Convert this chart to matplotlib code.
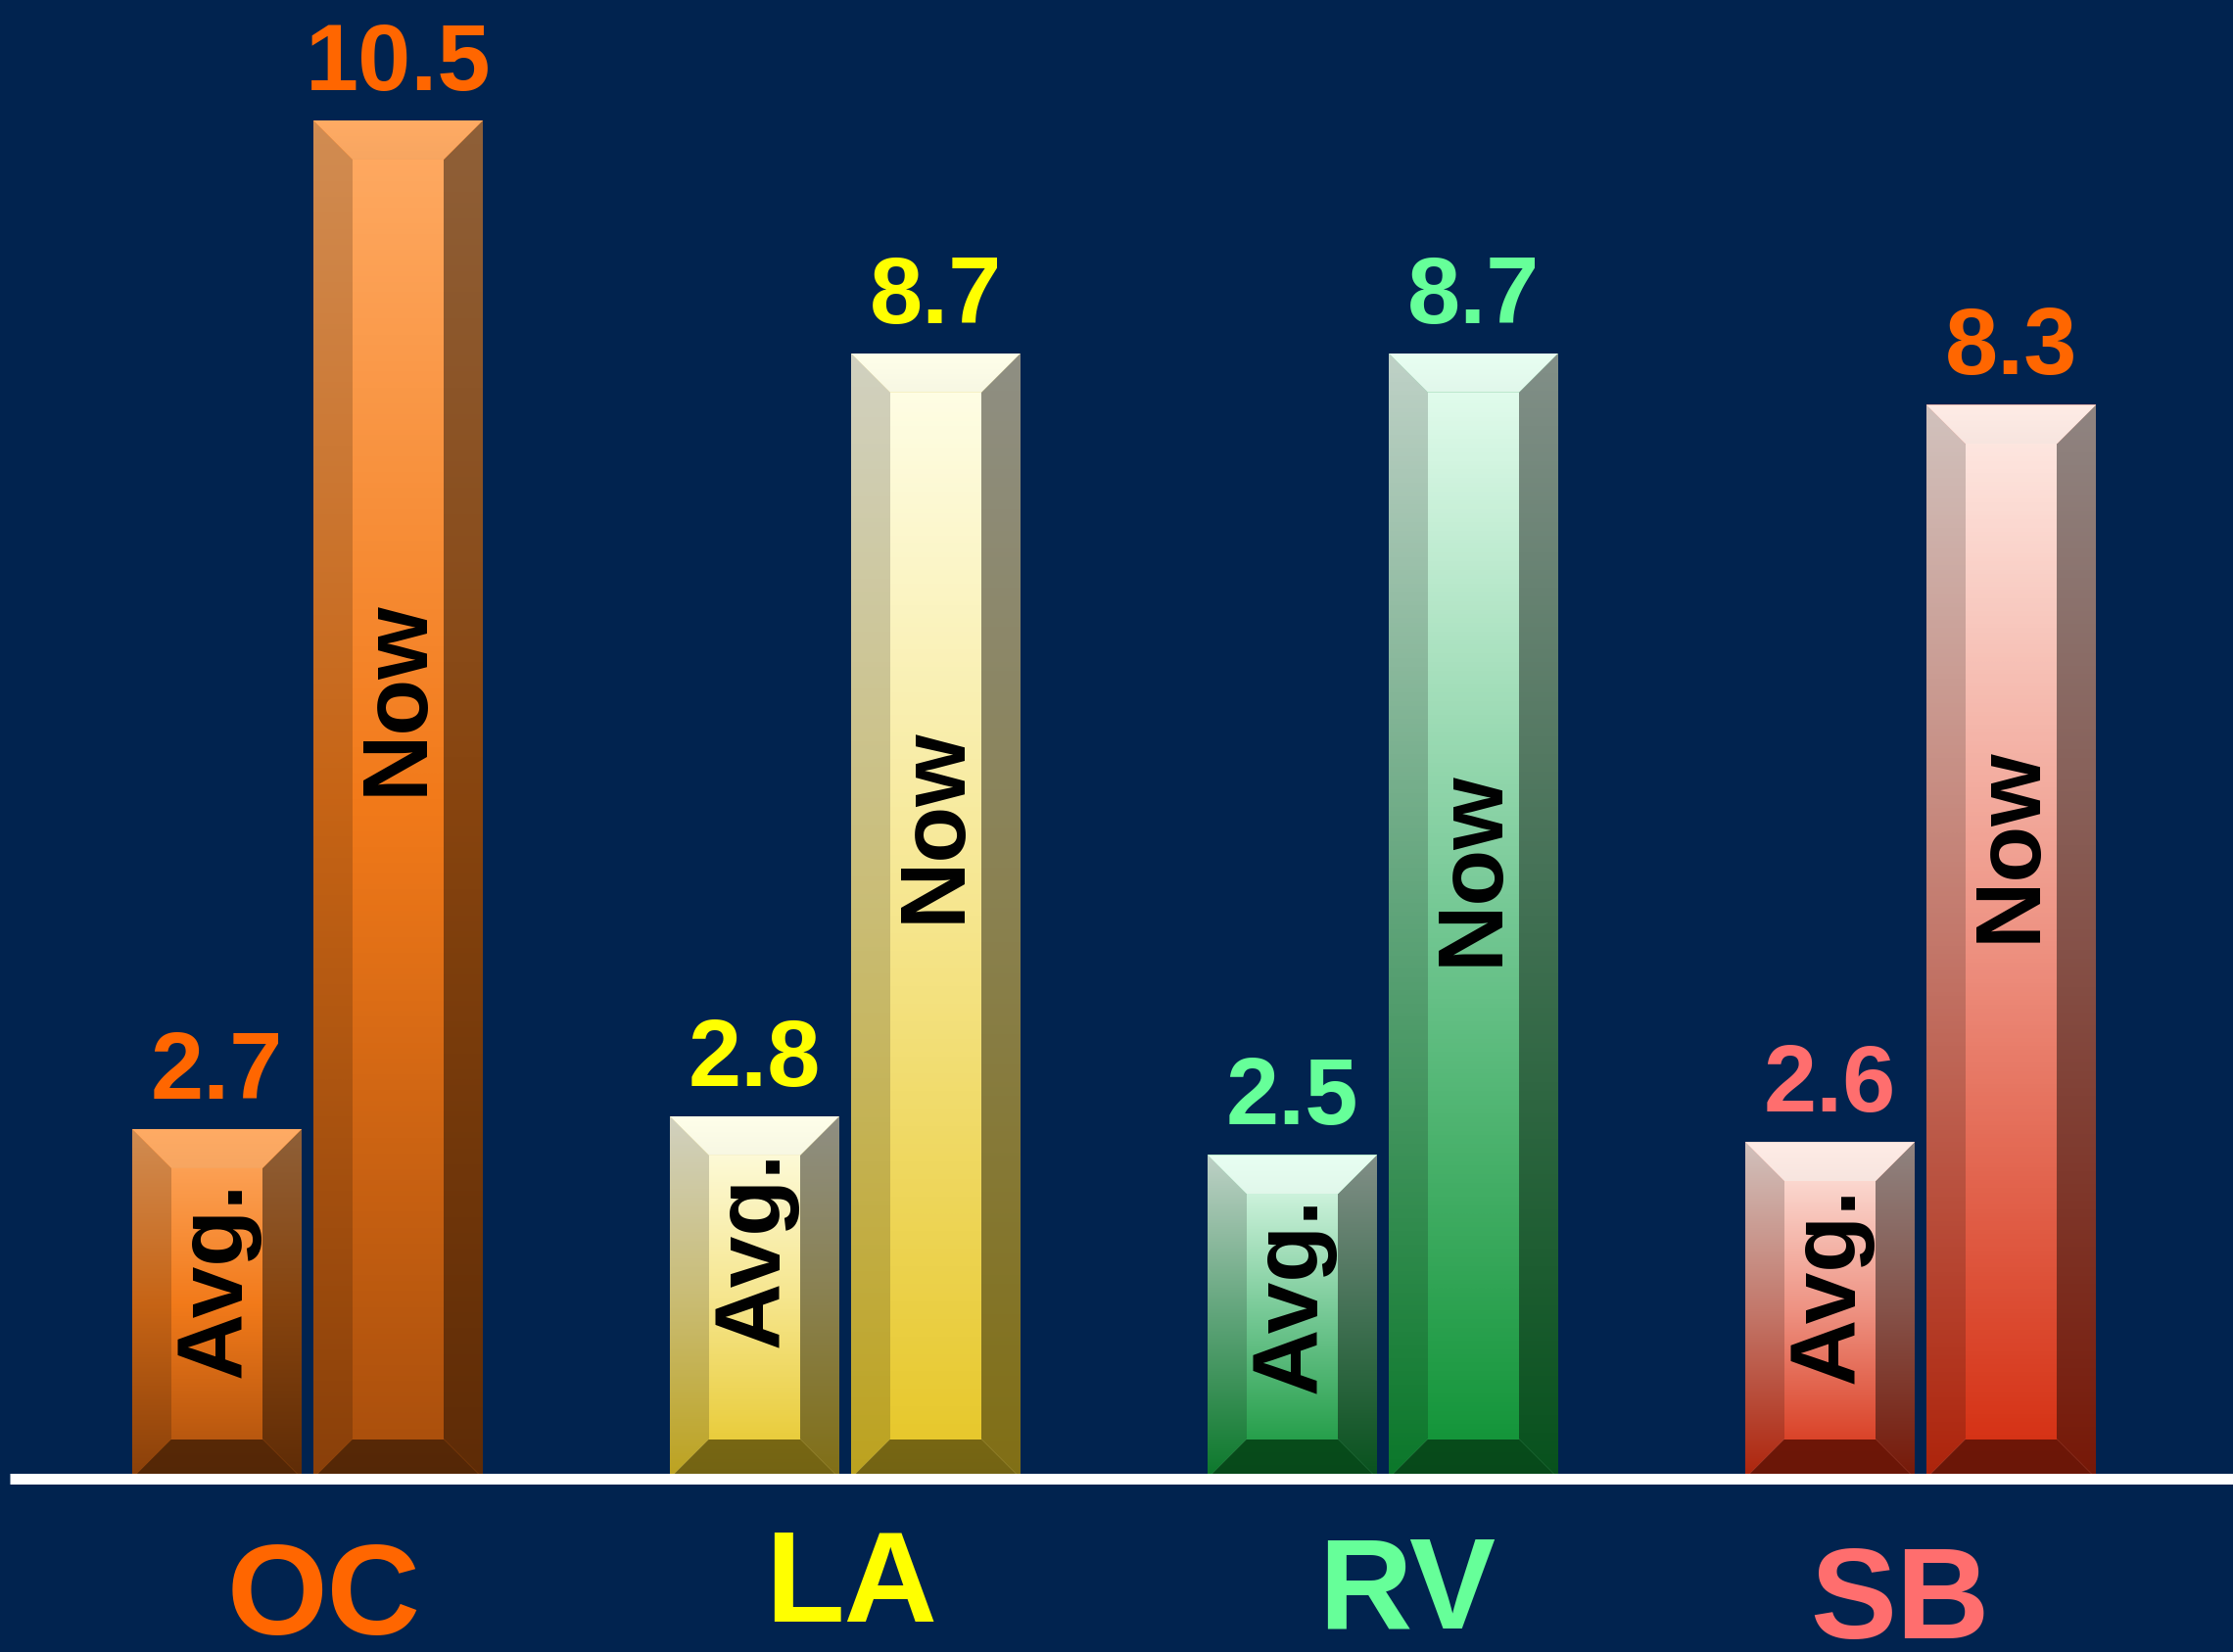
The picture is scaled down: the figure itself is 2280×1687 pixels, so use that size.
"""Avg. vs Now - bevelled bar chart (OC, LA, RV, SB)."""

from __future__ import annotations

import numpy as np
import matplotlib
matplotlib.use("Agg")
import matplotlib.pyplot as plt
from matplotlib.colors import LinearSegmentedColormap, to_rgb
from matplotlib.patches import Polygon

# data
categories = ["OC", "LA", "RV", "SB"]
avg_values = [2.7, 2.8, 2.5, 2.6]
now_values = [10.5, 8.7, 8.7, 8.3]

# colours
BG = "#01234F"
cat_colors = ["#FF6600", "#FFFF00", "#66FF99", "#FF6E6E"]
avg_label_colors = ["#FF6600", "#FFFF00", "#66FF99", "#FF6E6E"]
now_label_colors = ["#FF6600", "#FFFF00", "#66FF99", "#FF6600"]
# face gradient stops (top, middle, bottom)
face_top = ["#FFAB64", "#FFFFEA", "#E8FFF2", "#FFECE6"]
face_mid = ["#F27A1A", "#F6E68E", "#74C894", "#EE9282"]
face_bot = ["#A84E0C", "#E6C626", "#0E9234", "#D42C0E"]

# layout (pixels of a 2280x1687 canvas)
W, H = 2280, 1687
PX_X = 549.0            # pixels per category step
PX_Y = 132.05           # pixels per value unit
X0_PX, Y0_PX = 314.0, 1509.5
BAR_W = 173 / PX_X
BAR_OFF = 92.5 / PX_X
BEVEL = 40.0

avg_text_y = [1.54, 1.775, 1.42, 1.495]
now_text_y = [6.04, 5.05, 4.72, 4.90]
cat_dx = [17, 6, 25, -21]
cat_base = [-1.21, -1.109, -1.162, -1.235]


def scaled(c, k):
    r, g, b = to_rgb(c)
    return (r * k, g * k, b * k)


def make_cmap(i, k=1.0):
    return LinearSegmentedColormap.from_list(
        f"c{i}_{k}",
        [(0.0, scaled(face_top[i], k)), (0.5, scaled(face_mid[i], k)),
         (1.0, scaled(face_bot[i], k))])


def shade(ax, pts, cmap, extent, z):
    poly = Polygon(pts, closed=True, facecolor="none", edgecolor="none",
                   transform=ax.transData)
    ax.add_patch(poly)
    grad = np.linspace(0, 1, 256).reshape(-1, 1)
    im = ax.imshow(grad, cmap=cmap, extent=extent, aspect="auto",
                   origin="upper", interpolation="bilinear", zorder=z)
    im.set_clip_path(poly)


def bevel_bar(ax, rect, i):
    x0 = rect.get_x()
    x1 = x0 + rect.get_width()
    h = rect.get_height()
    dx = BEVEL / PX_X
    dy = BEVEL / PX_Y
    ext = (x0, x1, 0, h)
    face = [(x0 + dx, dy), (x1 - dx, dy), (x1 - dx, h - dy), (x0 + dx, h - dy)]
    top = [(x0, h), (x1, h), (x1 - dx, h - dy), (x0 + dx, h - dy)]
    left = [(x0, 0), (x0 + dx, dy), (x0 + dx, h - dy), (x0, h)]
    right = [(x1, 0), (x1, h), (x1 - dx, h - dy), (x1 - dx, dy)]
    bottom = [(x0, 0), (x1, 0), (x1 - dx, dy), (x0 + dx, dy)]
    shade(ax, face, make_cmap(i), ext, 3)
    shade(ax, left, make_cmap(i, 0.82), ext, 3)
    shade(ax, right, make_cmap(i, 0.56), ext, 3)
    top_c = LinearSegmentedColormap.from_list(
        f"t{i}", [scaled(face_top[i], 1.0), scaled(face_top[i], 0.97)])
    shade(ax, top, top_c, (x0, x1, h - dy, h), 3)
    bot_c = LinearSegmentedColormap.from_list(
        f"b{i}", [scaled(face_bot[i], 0.52), scaled(face_bot[i], 0.5)])
    shade(ax, bottom, bot_c, (x0, x1, 0, dy), 3)


def main() -> None:
    plt.rcParams["font.family"] = ["Liberation Sans", "DejaVu Sans"]
    fig = plt.figure(figsize=(W / 100, H / 100), dpi=100, facecolor=BG)
    ax = fig.add_axes([0, 0, 1, 1])
    ax.set_facecolor(BG)
    ax.axis("off")

    x = np.arange(len(categories))
    avg_bars = ax.bar(x - BAR_OFF, avg_values, BAR_W, color=face_mid, zorder=2)
    now_bars = ax.bar(x + BAR_OFF, now_values, BAR_W, color=face_mid, zorder=2)

    gap = 31 / PX_Y
    for i in range(len(categories)):
        for rect, val, col in ((avg_bars[i], avg_values[i], avg_label_colors[i]),
                               (now_bars[i], now_values[i], now_label_colors[i])):
            bevel_bar(ax, rect, i)
            cx = rect.get_x() + rect.get_width() / 2
            ax.text(cx, val + gap, f"{val:.1f}", color=col, fontsize=70,
                    fontweight="bold", ha="center", va="baseline", zorder=5)

        ax.text(x[i] - BAR_OFF, avg_text_y[i], "Avg.", rotation=90, color="black",
                fontsize=68, fontweight="bold", ha="center", va="center", zorder=5)
        ax.text(x[i] + BAR_OFF, now_text_y[i], "Now", rotation=90, color="black",
                fontsize=68, fontweight="bold", ha="center", va="center", zorder=5)
        ax.text(x[i] + cat_dx[i] / PX_X, cat_base[i], categories[i],
                color=cat_colors[i], fontsize=95, fontweight="bold",
                ha="center", va="baseline", zorder=5)

    ax.axhline(0, xmin=10 / W, xmax=1, color="white", lw=11 * 0.72,
               solid_capstyle="butt", zorder=6)

    ax.set_xlim(-X0_PX / PX_X, (W - X0_PX) / PX_X)
    ax.set_ylim(-(H - Y0_PX) / PX_Y, Y0_PX / PX_Y)

    fig.savefig("out.png", dpi=100, facecolor=BG)
    plt.close(fig)


if __name__ == "__main__":
    main()
